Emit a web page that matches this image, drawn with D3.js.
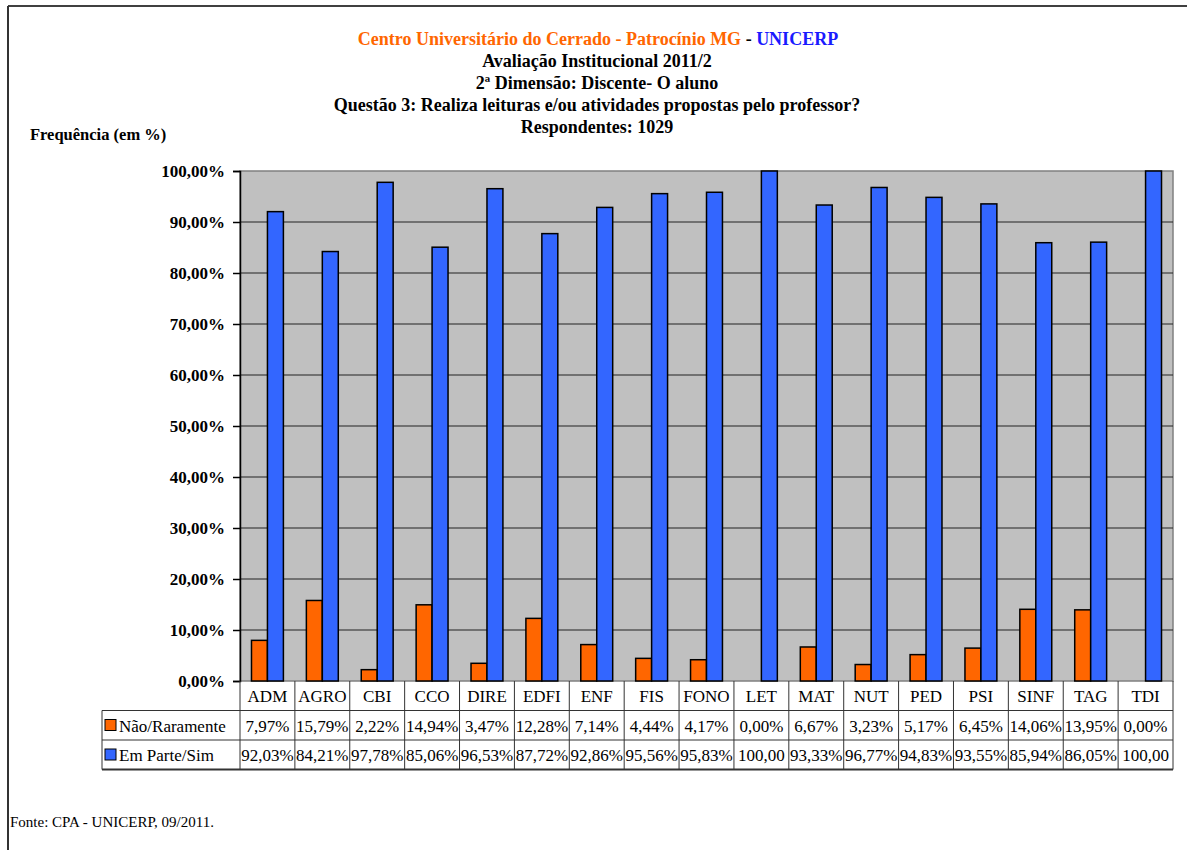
<!DOCTYPE html>
<html lang="pt">
<head>
<meta charset="UTF-8">
<title>Questão 3 - UNICERP</title>
<script src="https://d3js.org/d3.v7.min.js"></script>
<style>
    body { margin: 0; background: #fff; }
    svg, svg text { font-family: "Liberation Serif", "Times New Roman", serif; }
    .title { font-size: 18px; font-weight: bold; text-anchor: middle; }
    .tick-label { font-size: 17px; font-weight: bold; text-anchor: end; }
    .cell { font-size: 17px; text-anchor: middle; }
</style>
</head>
<body>
<svg width="1187" height="850"></svg>
<script>
// dados
var cursos = ["ADM", "AGRO", "CBI", "CCO", "DIRE", "EDFI", "ENF", "FIS", "FONO", "LET", "MAT", "NUT", "PED", "PSI", "SINF", "TAG", "TDI"];
var naoRaramente = [7.97, 15.79, 2.22, 14.94, 3.47, 12.28, 7.14, 4.44, 4.17, 0.00, 6.67, 3.23, 5.17, 6.45, 14.06, 13.95, 0.00];
var emParteSim = [92.03, 84.21, 97.78, 85.06, 96.53, 87.72, 92.86, 95.56, 95.83, 100.00, 93.33, 96.77, 94.83, 93.55, 85.94, 86.05, 100.00];
var rotulosNao = ["7,97%", "15,79%", "2,22%", "14,94%", "3,47%", "12,28%", "7,14%", "4,44%", "4,17%", "0,00%", "6,67%", "3,23%", "5,17%", "6,45%", "14,06%", "13,95%", "0,00%"];
var rotulosSim = ["92,03%", "84,21%", "97,78%", "85,06%", "96,53%", "87,72%", "92,86%", "95,56%", "95,83%", "100,00", "93,33%", "96,77%", "94,83%", "93,55%", "85,94%", "86,05%", "100,00"];
var series = ["Não/Raramente", "Em Parte/Sim"];
var cores = ["#FF6600", "#3366FF"];
var yTicks = [0, 10, 20, 30, 40, 50, 60, 70, 80, 90, 100];

var svg = d3.select("svg");
var plot = {left: 240, right: 1173, top: 171, bottom: 681};
var rowH = 29.5;

// moldura
svg.append("line").attr("x1", 8).attr("x2", 1187).attr("y1", 6).attr("y2", 6)
    .attr("stroke", "#000").attr("stroke-width", 1.5);
svg.append("line").attr("x1", 8).attr("x2", 8).attr("y1", 6).attr("y2", 850)
    .attr("stroke", "#333").attr("stroke-width", 2);

// títulos
var t1 = svg.append("text").attr("class", "title").attr("x", 598).attr("y", 45);
t1.append("tspan").attr("fill", "#FF6600").text("Centro Universitário do Cerrado - Patrocínio MG");
t1.append("tspan").attr("fill", "#000").text(" - ");
t1.append("tspan").attr("fill", "#1A1AFF").text("UNICERP");
var linhas = ["Avaliação Institucional 2011/2", "2ª Dimensão: Discente- O aluno",
    "Questão 3: Realiza leituras e/ou atividades propostas pelo professor?", "Respondentes: 1029"];
linhas.forEach(function(l, i) {
    svg.append("text").attr("class", "title").attr("x", 597).attr("y", 67 + i * 22).text(l);
});
svg.append("text").attr("x", 30).attr("y", 140).style("font-size", "16.5px")
    .style("font-weight", "bold").text("Frequência (em %)");

// escalas
var x = d3.scaleBand().domain(cursos).range([plot.left, plot.right]).paddingInner(0).paddingOuter(0);
var xs = d3.scaleBand().domain(series).range([0, x.bandwidth()]).paddingInner(0).paddingOuter(0.72);
var y = d3.scaleLinear().domain([0, 100]).range([plot.bottom, plot.top]);

// área do gráfico
svg.append("rect").attr("x", plot.left).attr("y", plot.top)
    .attr("width", plot.right - plot.left).attr("height", plot.bottom - plot.top)
    .attr("fill", "#C0C0C0").attr("stroke", "#808080").attr("stroke-width", 1.5);

svg.append("g").selectAll("line").data(yTicks.slice(1, -1)).enter().append("line")
    .attr("x1", plot.left).attr("x2", plot.right)
    .attr("y1", function(d) { return y(d); }).attr("y2", function(d) { return y(d); })
    .attr("stroke", "#222").attr("stroke-width", 1);

// eixo y
var yAxis = svg.append("g").attr("transform", "translate(" + plot.left + ",0)")
    .call(d3.axisLeft(y).tickValues(yTicks).tickSize(7).tickPadding(8)
        .tickFormat(function(d) { return d3.format(".2f")(d).replace(".", ",") + "%"; }));
yAxis.select(".domain").attr("stroke", "#000").attr("stroke-width", 1.5);
yAxis.selectAll(".tick line").attr("stroke", "#000").attr("stroke-width", 1.5);
yAxis.selectAll(".tick text").attr("class", "tick-label").attr("fill", "#000")
    .attr("font-family", null).attr("font-size", null);
yAxis.attr("font-family", null).attr("font-size", null);

// barras
var valores = [naoRaramente, emParteSim];
series.forEach(function(s, si) {
    svg.append("g").selectAll("rect").data(cursos).enter().append("rect")
        .attr("x", function(d) { return x(d) + xs(s); })
        .attr("width", xs.bandwidth())
        .attr("y", function(d, i) { return y(valores[si][i]); })
        .attr("height", function(d, i) { return y(0) - y(valores[si][i]); })
        .attr("fill", cores[si])
        .attr("stroke", "#000").attr("stroke-width", 1.5)
        .style("display", function(d, i) { return valores[si][i] > 0 ? null : "none"; });
});

// tabela de dados
var tab = svg.append("g").attr("stroke", "#333").attr("stroke-width", 1);
var yTop = plot.bottom, y1 = yTop + rowH, y2 = y1 + rowH, y3 = y2 + rowH;
[y1, y2, y3].forEach(function(yy) {
    tab.append("line").attr("x1", 102).attr("x2", plot.right).attr("y1", yy).attr("y2", yy);
});
tab.append("line").attr("x1", 102).attr("x2", 102).attr("y1", y1).attr("y2", y3);
var bordas = cursos.map(function(c) { return x(c); }).concat([plot.right]);
tab.selectAll(".v").data(bordas).enter().append("line")
    .attr("x1", function(d) { return d; }).attr("x2", function(d) { return d; })
    .attr("y1", yTop).attr("y2", y3);
tab.append("line").attr("x1", 102).attr("x2", plot.right).attr("y1", y3).attr("y2", y3)
    .attr("stroke-width", 2);

svg.append("g").selectAll("text").data(cursos).enter().append("text")
    .attr("class", "cell").attr("x", function(d) { return x(d) + x.bandwidth() / 2; })
    .attr("y", yTop + 21).text(function(d) { return d; });

var rotulos = [rotulosNao, rotulosSim];
rotulos.forEach(function(r, ri) {
    var yy = y1 + ri * rowH;
    svg.append("g").selectAll("text").data(cursos).enter().append("text")
        .attr("class", "cell").attr("x", function(d) { return x(d) + x.bandwidth() / 2; })
        .attr("y", yy + 21).text(function(d, i) { return r[i]; });
    svg.append("rect").attr("x", 105).attr("y", yy + 9).attr("width", 11).attr("height", 11)
        .attr("fill", cores[ri]).attr("stroke", "#000").attr("stroke-width", 1);
    svg.append("text").attr("x", 119).attr("y", yy + 21).style("font-size", "17px").text(series[ri]);
});

// fonte
svg.append("text").attr("x", 10).attr("y", 827).style("font-size", "15px")
    .text("Fonte: CPA - UNICERP, 09/2011.");
</script>
</body>
</html>
